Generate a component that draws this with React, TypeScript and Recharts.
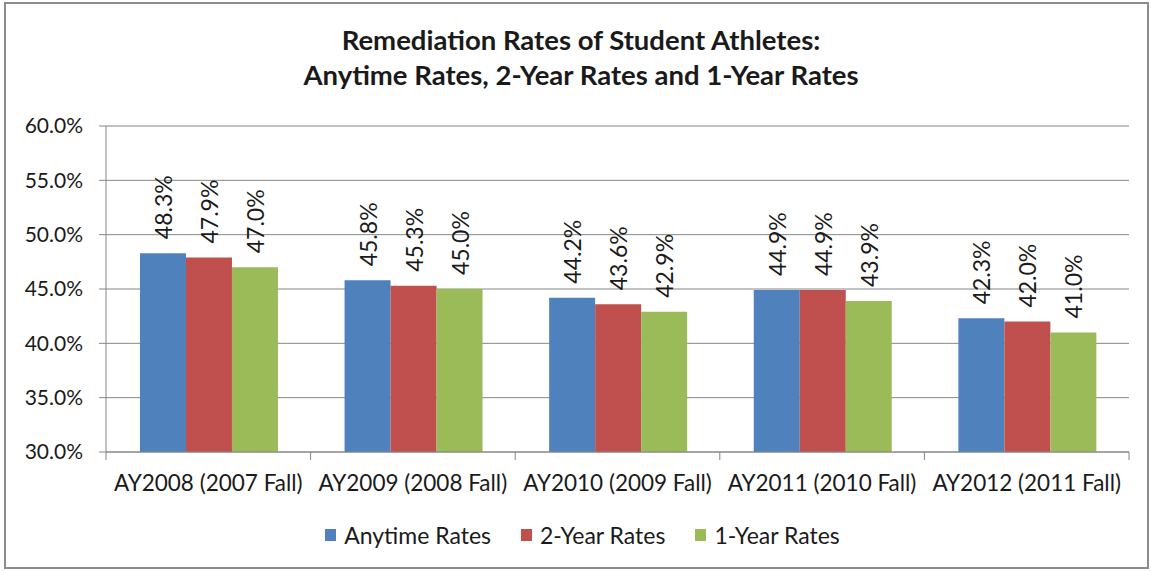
import { BarChart, Bar, XAxis, YAxis, CartesianGrid, Legend, LabelList } from 'recharts';

const categories = [
  'AY2008 (2007 Fall)',
  'AY2009 (2008 Fall)',
  'AY2010 (2009 Fall)',
  'AY2011 (2010 Fall)',
  'AY2012 (2011 Fall)',
];
const anytimeRates = [48.3, 45.8, 44.2, 44.9, 42.3];
const twoYearRates = [47.9, 45.3, 43.6, 44.9, 42.0];
const oneYearRates = [47.0, 45.0, 42.9, 43.9, 41.0];
const yTicks = [30, 35, 40, 45, 50, 55, 60];

const data = categories.map((name, i) => ({
  name,
  anytime: anytimeRates[i],
  twoYear: twoYearRates[i],
  oneYear: oneYearRates[i],
}));

const FONT = 'Lato, "Open Sans", sans-serif';
const AXIS = '#868686';
const TEXT = '#1a1a1a';
const CHART_W = 1151;
const MARGIN_R = 22;
const Y_W = 106;
const BAND = (CHART_W - MARGIN_R - Y_W) / categories.length;

const BarValue = (props: any) => {
  const { x, y, width, value } = props;
  const cx = x + width / 2;
  const cy = y - 14;
  return (
    <text
      x={cx}
      y={cy}
      transform={`rotate(-90 ${cx} ${cy})`}
      textAnchor="start"
      dominantBaseline="central"
      fontSize={23}
      fontFamily={FONT}
      fill={TEXT}
    >
      {Number(value).toFixed(1)}%
    </text>
  );
};

const CategoryTick = (props: any) => {
  const { x, y, payload, index } = props;
  const axisY = y - 8;
  return (
    <g>
      <line x1={x - BAND / 2} x2={x - BAND / 2} y1={axisY} y2={axisY + 8} stroke={AXIS} />
      {index === categories.length - 1 && (
        <line x1={x + BAND / 2} x2={x + BAND / 2} y1={axisY} y2={axisY + 8} stroke={AXIS} />
      )}
      <text x={x} y={axisY + 31} dy="0.35em" textAnchor="middle" fontSize={22.5} fontFamily={FONT} fill={TEXT}>
        {payload.value}
      </text>
    </g>
  );
};

const legendItems = [
  { label: 'Anytime Rates', color: '#4f81bd' },
  { label: '2-Year Rates', color: '#c0504d' },
  { label: '1-Year Rates', color: '#9bbb59' },
];

const LegendContent = () => (
  <div style={{ display: 'flex', justifyContent: 'center', gap: 30, fontFamily: FONT, fontSize: 23, color: TEXT, paddingLeft: 36 }}>
    {legendItems.map((it) => (
      <div key={it.label} style={{ display: 'flex', alignItems: 'center' }}>
        <span style={{ width: 11, height: 12, background: it.color, display: 'inline-block', marginRight: 8 }} />
        {it.label}
      </div>
    ))}
  </div>
);

export default function App() {
  return (
    <div style={{ position: 'absolute', left: 0, top: 0, width: 1151, height: 571, background: '#fff' }}>
      <div
        style={{
          position: 'absolute',
          left: 4,
          top: 2,
          width: 1141,
          height: 563,
          border: '2px solid #8c8c8c',
        }}
      />
      <div
        style={{
          position: 'absolute',
          left: 0,
          top: 22,
          width: 1162,
          textAlign: 'center',
          fontFamily: FONT,
          fontWeight: 'bold',
          fontSize: 27.5,
          lineHeight: '35px',
          color: TEXT,
        }}
      >
        Remediation Rates of Student Athletes:
        <br />
        Anytime Rates, 2-Year Rates and 1-Year Rates
      </div>
      <div style={{ position: 'absolute', left: 0, top: 0 }}>
        <BarChart
          width={CHART_W}
          height={571}
          data={data}
          margin={{ top: 126, right: MARGIN_R, left: 0, bottom: 39 }}
          barCategoryGap="16.6%"
          barGap={0}
        >
          <CartesianGrid vertical={false} stroke={AXIS} strokeWidth={1} />
          <XAxis
            dataKey="name"
            stroke={AXIS}
            tickLine={false}
            tick={<CategoryTick />}
            height={50}
            interval={0}
          />
          <YAxis
            domain={[30, 60]}
            ticks={yTicks}
            width={Y_W}
            stroke={AXIS}
            tickSize={7}
            tickMargin={16}
            allowDataOverflow
            tickFormatter={(v: number) => `${v.toFixed(1)}%`}
            tick={{ fontSize: 21, fontFamily: FONT, fill: TEXT }}
          />
          <Legend
            verticalAlign="bottom"
            content={<LegendContent />}
            height={30}
            wrapperStyle={{ bottom: 20 }}
          />
          <Bar dataKey="anytime" name="Anytime Rates" fill="#4f81bd" isAnimationActive={false}>
            <LabelList dataKey="anytime" content={<BarValue />} />
          </Bar>
          <Bar dataKey="twoYear" name="2-Year Rates" fill="#c0504d" isAnimationActive={false}>
            <LabelList dataKey="twoYear" content={<BarValue />} />
          </Bar>
          <Bar dataKey="oneYear" name="1-Year Rates" fill="#9bbb59" isAnimationActive={false}>
            <LabelList dataKey="oneYear" content={<BarValue />} />
          </Bar>
        </BarChart>
      </div>
    </div>
  );
}
